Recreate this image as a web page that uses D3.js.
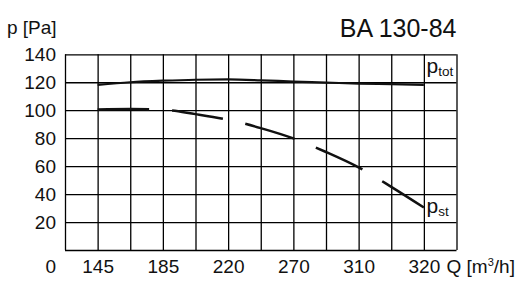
<!DOCTYPE html>
<html>
<head>
<meta charset="utf-8">
<script src="https://cdn.jsdelivr.net/npm/d3@7"></script>
<style>
  html, body { margin: 0; padding: 0; background: #fff; }
  svg { display: block; }
  text { font-family: "Liberation Sans", Arial, Helvetica, sans-serif; fill: #111; }
</style>
</head>
<body>
<svg id="chart" width="525" height="292"></svg>
<script>
// ---- data ----
const title = "BA 130-84";
const yTicks = [0, 20, 40, 60, 80, 100, 120, 140];
// x grid positions (equally spaced grid columns); labelled every other column
const xGrid = [0, 1, 2, 3, 4, 5, 6, 7, 8, 9, 10, 11, 12];
const xLabelPos = [1, 3, 5, 7, 9, 11];
const xLabels = ["145", "185", "220", "270", "310", "320"];
// curve samples at grid columns 1..11
const curveX = [1, 2, 3, 4, 5, 6, 7, 8, 9, 10, 11];
const pTot = [118.1, 120.0, 121.1, 121.8, 122.0, 121.4, 120.5, 119.8, 119.0, 118.6, 118.1];
const pSt  = [100.5, 100.8, 100.4, 97.2, 93.2, 87.2, 79.8, 70.1, 59.1, 45.2, 30.4];

// ---- layout ----
const svg = d3.select("#chart");
const L = 65, R = 456.5, T = 54.3, B = 250;
const x = d3.scaleLinear().domain([0, 12]).range([L, R]);
const y = d3.scaleLinear().domain([0, 140]).range([B, T]);

// horizontal grid + y labels
const yAxis = svg.append("g")
  .attr("transform", `translate(${L},0)`)
  .call(d3.axisLeft(y).tickValues(yTicks).tickSize(-(R - L)).tickPadding(9)
        .tickFormat(d => d === 0 ? "" : d));
yAxis.select(".domain").remove();
yAxis.selectAll(".tick line").attr("stroke", "#000").attr("stroke-width", 1.3);
yAxis.selectAll(".tick text")
  .attr("font-size", 19).attr("fill", "#111").attr("dy", "0.33em")
  .attr("font-family", "Liberation Sans, Arial, sans-serif");

// vertical grid + x labels
const labelMap = new Map(xLabelPos.map((p, i) => [p, xLabels[i]]));
const xAxis = svg.append("g")
  .attr("transform", `translate(0,${B})`)
  .call(d3.axisBottom(x).tickValues(xGrid).tickSize(-(B - T))
        .tickFormat(d => labelMap.get(d) || ""));
xAxis.select(".domain").remove();
xAxis.selectAll(".tick line").attr("stroke", "#000").attr("stroke-width", 1.3);
xAxis.selectAll(".tick text")
  .attr("font-size", 19).attr("fill", "#111")
  .attr("y", 22.7).attr("dy", 0)
  .attr("font-family", "Liberation Sans, Arial, sans-serif");

// origin "0" label in x-label row
svg.append("text").attr("x", 56).attr("y", B + 22.7)
  .attr("text-anchor", "end").attr("font-size", 19).text("0");

// x axis title
const qt = svg.append("text").attr("x", 446.5).attr("y", B + 22.7).attr("font-size", 19);
qt.append("tspan").text("Q [m");
qt.append("tspan").attr("font-size", 11).attr("dy", -7).text("3");
qt.append("tspan").attr("dy", 7).text("/h]");

// y axis title
svg.append("text").attr("x", 7).attr("y", 33.5).attr("font-size", 19).text("p [Pa]");

// chart title
svg.append("text").attr("x", 456.5).attr("y", 37).attr("text-anchor", "end")
  .attr("font-size", 25).text(title);

// curves
const line = d3.line().x(d => x(d[0])).y(d => y(d[1])).curve(d3.curveMonotoneX);
svg.append("path")
  .datum(curveX.map((c, i) => [c, pTot[i]]))
  .attr("d", line).attr("fill", "none").attr("stroke", "#111").attr("stroke-width", 2.2);
svg.append("path")
  .datum(curveX.map((c, i) => [c, pSt[i]]))
  .attr("d", line).attr("fill", "none").attr("stroke", "#111").attr("stroke-width", 2.5)
  .attr("stroke-dasharray", "51.5,23");

// series labels
function seriesLabel(px, py, sub) {
  const t = svg.append("text").attr("x", px).attr("y", py).attr("font-size", 21);
  t.append("tspan").text("p");
  t.append("tspan").attr("font-size", 13.5).attr("dy", 3).text(sub);
}
seriesLabel(426.5, 72.5, "tot");
seriesLabel(426.5, 213, "st");
</script>
</body>
</html>
